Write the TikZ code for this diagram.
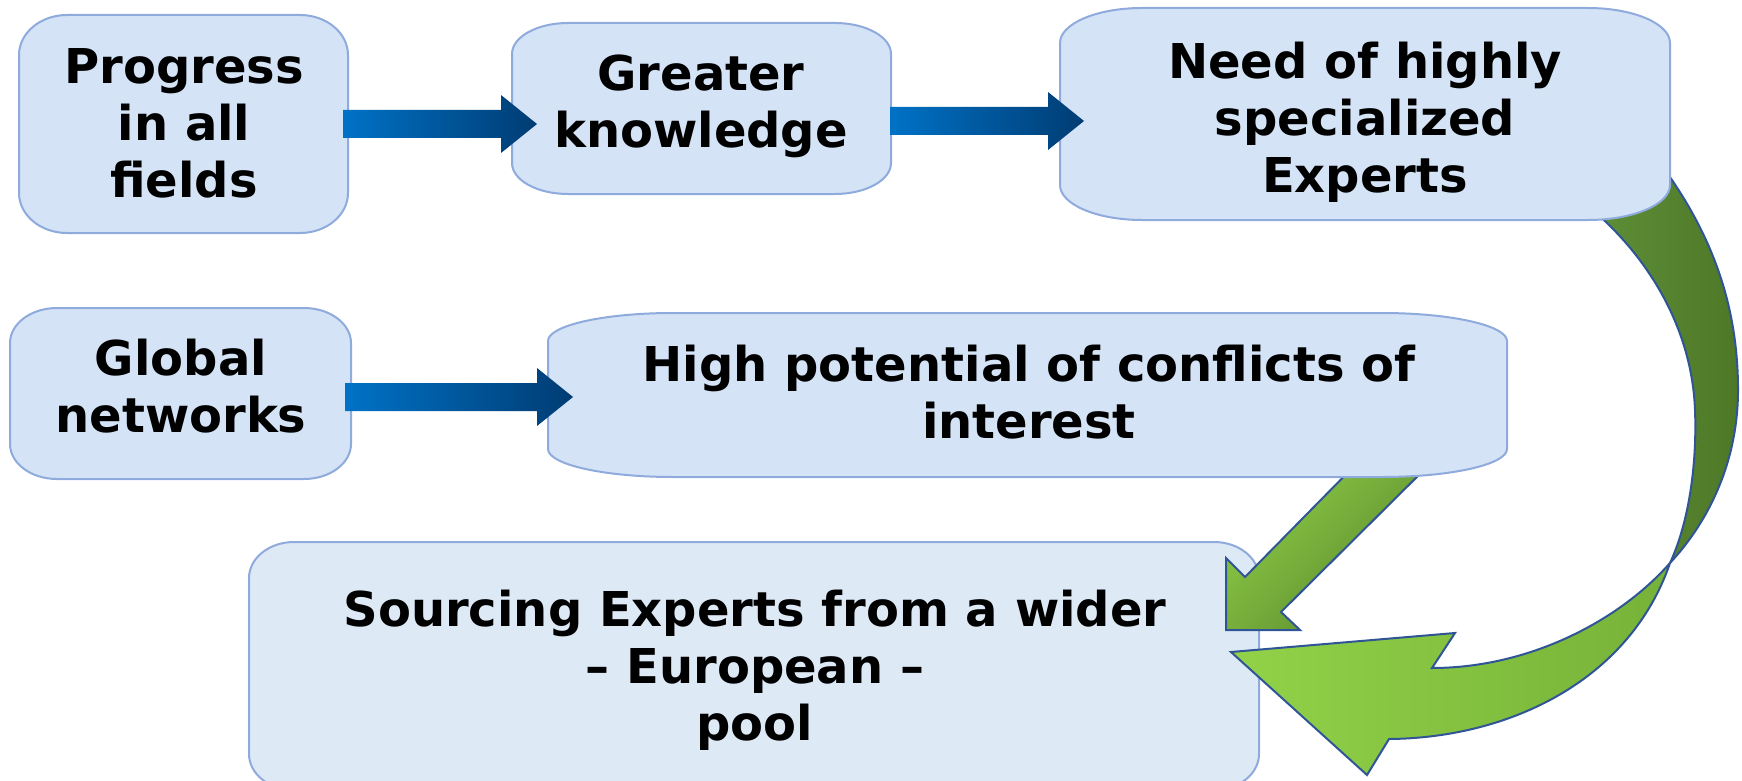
\documentclass[tikz,border=0pt]{standalone}
\usepackage{fontspec}
\setmainfont{DejaVu Sans}
\usetikzlibrary{calc}
\definecolor{boxfill}{RGB}{212,227,245}
\definecolor{boxfillb}{RGB}{222,233,246}
\definecolor{boxline}{RGB}{143,170,220}
\definecolor{blueL}{RGB}{0,114,198}
\definecolor{blueD}{RGB}{0,60,115}
\definecolor{bandline}{RGB}{47,85,151}
\definecolor{greenTL}{RGB}{94,142,56}
\definecolor{greenTD}{RGB}{78,120,38}
\definecolor{greenL}{RGB}{146,210,72}
\definecolor{greenM}{RGB}{118,178,56}
\definecolor{greenSL}{RGB}{142,204,70}
\definecolor{greenSD}{RGB}{88,135,45}
\newcommand\ellbox[7]{%
 \path[#1] ({#2+#6},#3) -- ({#4-#6},#3)
  .. controls ({#4-0.4477*#6},#3) and (#4,{#3+0.4477*#7}) .. (#4,{#3+#7})
  -- (#4,{#5-#7})
  .. controls (#4,{#5-0.4477*#7}) and ({#4-0.4477*#6},#5) .. ({#4-#6},#5)
  -- ({#2+#6},#5)
  .. controls ({#2+0.4477*#6},#5) and (#2,{#5-0.4477*#7}) .. (#2,{#5-#7})
  -- (#2,{#3+#7})
  .. controls (#2,{#3+0.4477*#7}) and ({#2+0.4477*#6},#3) .. ({#2+#6},#3) -- cycle;}
\newcommand\bluearr[2]{%
 \shade[bluearrow] ($(#1)+(0,-14)$) -- ($(#2)+(-36,-14)$) -- ($(#2)+(-36,-29)$) -- (#2)
   -- ($(#2)+(-36,29)$) -- ($(#2)+(-36,14)$) -- ($(#1)+(0,14)$) -- cycle;}
\tikzset{
 boxshape/.style={fill=boxfill, draw=boxline, line width=2pt},
 boxshapeb/.style={fill=boxfillb, draw=boxline, line width=2pt},
 boxtext/.style={align=center, inner sep=0pt, font=\fontsize{48}{57}\selectfont\bfseries},
 bluearrow/.style={left color=blueL, right color=blueD, draw=none},
 bandtop/.style={left color=greenTL, right color=greenTD, draw=bandline, line width=2pt, line join=round},
 bandbottom/.style={left color=greenL, right color=greenM, draw=bandline, line width=2pt, line join=miter},
 greenarrow/.style={top color=greenSL, bottom color=greenSD, shading angle=45, draw=bandline, line width=2pt, line join=miter},
}
\begin{document}
\begin{tikzpicture}[x=1pt, y=-1pt]
\useasboundingbox (0,0) rectangle (1742,781);
\clip (0,0) rectangle (1742,781);
% bottom box
\ellbox{boxshapeb}{249}{542}{1259}{790}{45}{36}
% curved arrow
\coordinate (cx) at (1670,563);
\shade[bandtop] (1665,170) .. controls (1715,240) and (1738,310) .. (1738,390)
  .. controls (1738,460) and (1710,520) .. (cx)
  .. controls (1690,520) and (1697,460) .. (1695,410)
  .. controls (1692,330) and (1650,260) .. (1595,212) -- cycle;
\shade[bandbottom] (cx) .. controls (1620,620) and (1530,668) .. (1432,668)
  -- (1455,633) -- (1231,652) -- (1367,775) -- (1389,739)
  .. controls (1510,738) and (1630,680) .. (cx) -- cycle;
% straight green arrow
\shade[greenarrow] (1363,457) -- (1245,577) -- (1226,558) -- (1226,630) -- (1300,630) -- (1281,612) -- (1437,457) -- cycle;
% boxes
\ellbox{boxshape}{19}{15}{348}{233}{48}{40}
\ellbox{boxshape}{512}{23}{891}{194}{56}{31}
\ellbox{boxshape}{1060}{8}{1670}{220}{82}{35}
\ellbox{boxshape}{10}{308}{351}{479}{47}{35}
\ellbox{boxshape}{548}{313}{1507}{477}{125}{28}
% texts
\node[boxtext] (t1) at (184,123) {Progress\\in all\\fields};
\node[boxtext] (t2) at (701,106) {Greater\\knowledge};
\node[boxtext] (t3) at (1365,122) {Need of highly\\specialized\\Experts};
\node[boxtext] (t4) at (181,386) {Global\\networks};
\node[boxtext] (t5) at (1029,392) {High potential of conflicts of\\interest};
\node[boxtext] (t6) at (755,670) {Sourcing Experts from a wider\\– European –\\pool};
% blue arrows
\coordinate (a1s) at (343,124);
\coordinate (a1t) at (537,124);
\coordinate (a2s) at (890,121);
\coordinate (a2t) at (1084,121);
\coordinate (a3s) at (345,397);
\coordinate (a3t) at (573,397);
\bluearr{a1s}{a1t}
\bluearr{a2s}{a2t}
\bluearr{a3s}{a3t}
\end{tikzpicture}
\end{document}
